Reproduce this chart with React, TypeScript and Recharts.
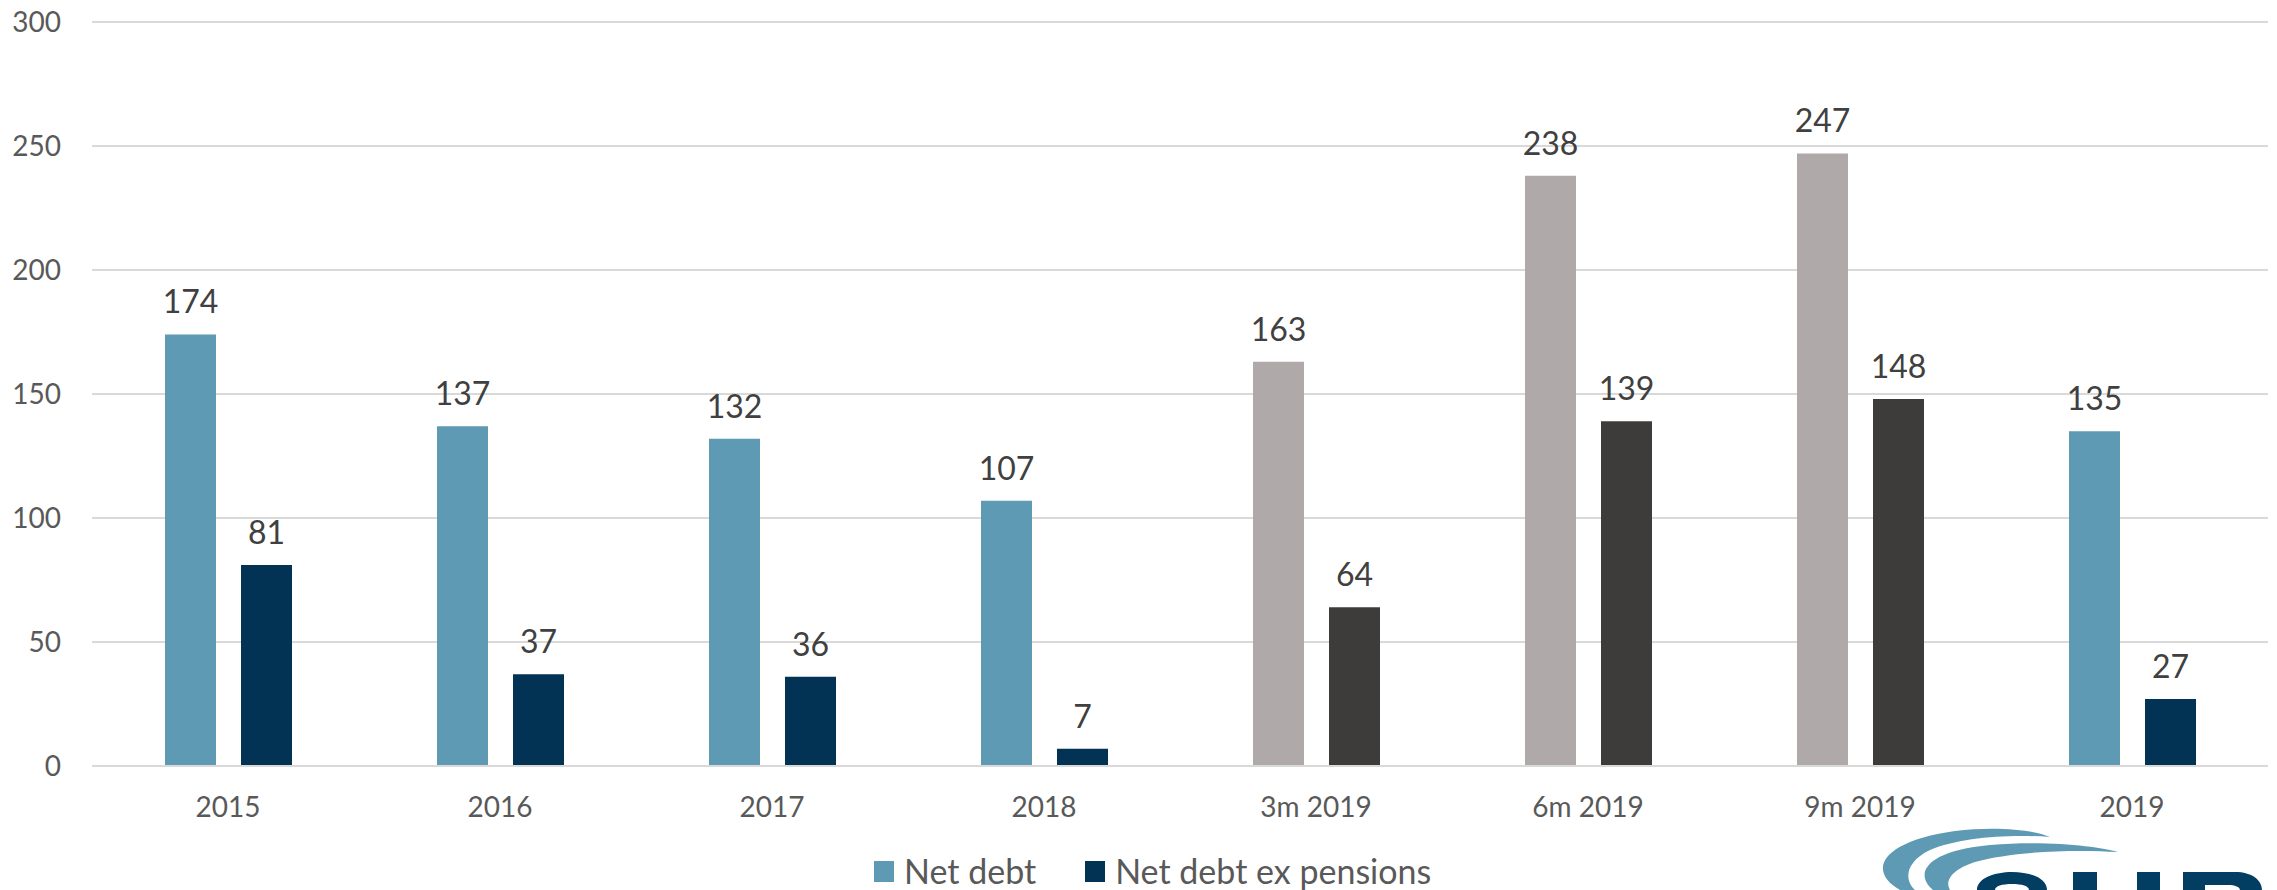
import { BarChart, Bar, XAxis, YAxis, CartesianGrid, LabelList, Cell, Legend } from "recharts";

const periods = ["2015", "2016", "2017", "2018", "3m 2019", "6m 2019", "9m 2019", "2019"];
const netDebt = [174, 137, 132, 107, 163, 238, 247, 135];
const netDebtExPensions = [81, 37, 36, 7, 64, 139, 148, 27];
const interimPeriods = ["3m 2019", "6m 2019", "9m 2019"];
const yTicks = [0, 50, 100, 150, 200, 250, 300];

const data = periods.map((p, i) => ({ period: p, netDebt: netDebt[i], exPensions: netDebtExPensions[i] }));

const FONT = "Lato, 'Open Sans', sans-serif";
const blue = "#5f9ab5";
const navy = "#023354";
const grey = "#afaaa9";
const charcoal = "#3d3c3b";

function LegendRow() {
  const item = (color: string, label: string, gap: number) => (
    <div style={{ display: "flex", alignItems: "center", marginRight: gap }}>
      <div style={{ width: 20, height: 21, background: color, marginRight: 10 }} />
      <span style={{ fontSize: 34, color: "#595959", lineHeight: "30px" }}>{label}</span>
    </div>
  );
  return (
    <div style={{ display: "flex", alignItems: "center", height: 30, fontFamily: FONT }}>
      {item(blue, "Net debt", 49)}
      {item(navy, "Net debt ex pensions", 0)}
    </div>
  );
}

function Logo() {
  return (
    <svg width={2277} height={890} style={{ position: "absolute", left: 0, top: 0, pointerEvents: "none" }}>
      <path d="M 1900 890 C 1868 872, 1878 842, 1955 831 C 1995 826, 2035 830, 2050 837 C 2010 834, 1960 837, 1930 850 C 1905 862, 1904 880, 1915 890 Z" fill="#5f9ab4" />
      <path d="M 1933 890 C 1914 874, 1925 851, 1990 845 C 2050 840, 2100 847, 2118 852 C 2070 849, 2010 852, 1975 862 C 1950 870, 1945 882, 1950 890 Z" fill="#5f9ab4" />
      <path d="M 1977 890 C 1977 878, 1995 872, 2012 872 C 2030 872, 2047 878, 2047 890 L 2029 890 C 2029 886, 2022 884, 2012 884 C 2002 884, 1995 886, 1995 890 Z" fill="#023d62" />
      <rect x={2073} y={872} width={24} height={18} fill="#023d62" />
      <rect x={2137} y={872} width={23} height={18} fill="#023d62" />
      <path d="M 2183 890 L 2183 872 L 2235 872 C 2252 872, 2262 880, 2262 890 L 2240 890 C 2240 887, 2235 885, 2228 885 L 2205 885 L 2205 890 Z" fill="#023d62" />
    </svg>
  );
}

export default function App() {
  return (
    <div style={{ position: "absolute", left: 0, top: 0, width: 2277, height: 890, overflow: "hidden", background: "#fff", fontFamily: FONT }}>
      <BarChart width={2277} height={890} data={data} margin={{ top: 22, right: 9, bottom: 4, left: 0 }} barSize={51} barGap={25}>
        <CartesianGrid vertical={false} stroke="#d9d9d9" strokeWidth={2} />
        <XAxis
          dataKey="period"
          height={90}
          tickLine={false}
          tickSize={0}
          tickMargin={31}
          axisLine={{ stroke: "#d9d9d9", strokeWidth: 2 }}
          tick={{ fontSize: 28, fill: "#595959", fontFamily: FONT }}
        />
        <YAxis
          width={92}
          domain={[0, 300]}
          ticks={yTicks}
          axisLine={false}
          tickLine={false}
          tickSize={0}
          tickMargin={31}
          tick={{ fontSize: 28, fill: "#595959", fontFamily: FONT }}
        />
        <Legend
          verticalAlign="bottom"
          content={() => <LegendRow />}
          wrapperStyle={{ left: 874, width: 700, height: 30 }}
        />
        <Bar dataKey="netDebt" name="Net debt" fill={blue} isAnimationActive={false}>
          {data.map((d) => (
            <Cell key={d.period} fill={interimPeriods.includes(d.period) ? grey : blue} />
          ))}
          <LabelList dataKey="netDebt" position="top" offset={21} style={{ fontSize: 32, fill: "#404040", fontFamily: FONT }} />
        </Bar>
        <Bar dataKey="exPensions" name="Net debt ex pensions" fill={navy} isAnimationActive={false}>
          {data.map((d) => (
            <Cell key={d.period} fill={interimPeriods.includes(d.period) ? charcoal : navy} />
          ))}
          <LabelList dataKey="exPensions" position="top" offset={21} style={{ fontSize: 32, fill: "#404040", fontFamily: FONT }} />
        </Bar>
      </BarChart>
      <Logo />
    </div>
  );
}
